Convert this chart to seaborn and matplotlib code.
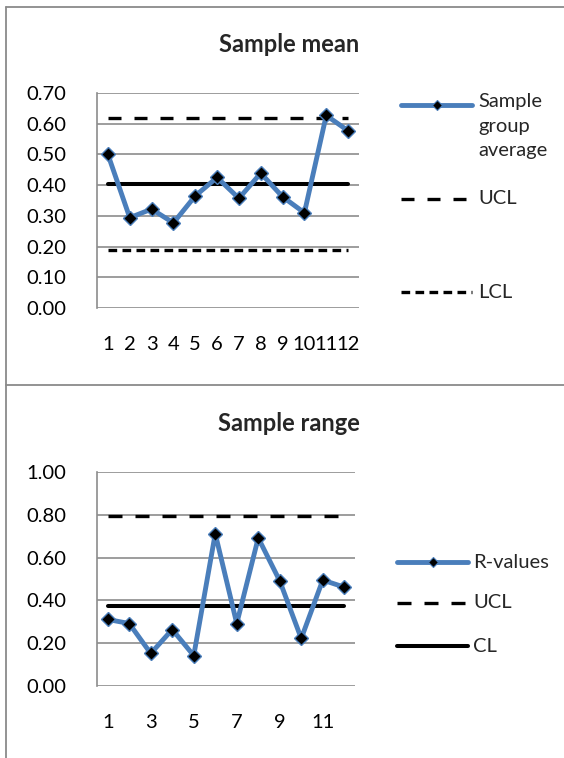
import matplotlib
matplotlib.use("Agg")
import matplotlib.pyplot as plt
from matplotlib.lines import Line2D
import numpy as np
import pandas as pd
import seaborn as sns

# ---- data -------------------------------------------------------------
samples = list(range(1, 13))
sample_means = [0.50, 0.294, 0.322, 0.277, 0.365, 0.425, 0.357, 0.439, 0.362, 0.310, 0.627, 0.577]
mean_ucl = 0.620
mean_cl = 0.404
mean_lcl = 0.188

r_values = [0.311, 0.292, 0.152, 0.264, 0.142, 0.712, 0.292, 0.692, 0.491, 0.222, 0.495, 0.462]
range_ucl = 0.793
range_cl = 0.376

mean_yticks = [0.0, 0.1, 0.2, 0.3, 0.4, 0.5, 0.6, 0.7]
range_yticks = [0.0, 0.2, 0.4, 0.6, 0.8, 1.0]
range_xticks = [1, 3, 5, 7, 9, 11]

# ---- style ------------------------------------------------------------
sns.set_theme(style="white")
plt.rcParams["font.family"] = ["Lato", "DejaVu Sans"]

W, H = 564, 758
DPI = 100
BLUE = "#4A7EBB"
GRID = "#8C8C8C"
FS = 14.5
fig = plt.figure(figsize=(W / DPI, H / DPI), dpi=DPI)
fig.patch.set_facecolor("white")


def fx(x):
    return x / W


def fy(y):
    return 1 - y / H


def add_axes(left, top, right, bottom):
    return fig.add_axes([fx(left), fy(bottom), fx(right - left), (bottom - top) / H])


def series_frame(values, ucl, cl, lcl=None):
    n = len(values)
    d = {"sample": samples, "value": values,
         "ucl": [ucl] * n, "cl": [cl] * n}
    if lcl is not None:
        d["lcl"] = [lcl] * n
    return pd.DataFrame(d)


def style_axes(ax, ymax, yticks, xticks):
    ax.set_xlim(0.5, 12.5)
    ax.set_ylim(0, ymax)
    ax.set_yticks(yticks)
    ax.set_yticklabels([f"{t:.2f}" for t in yticks], fontsize=FS)
    ax.set_xticks(xticks)
    ax.set_xticklabels([str(t) for t in xticks], fontsize=FS)
    ax.tick_params(axis="both", length=0, colors="black")
    ax.tick_params(axis="y", pad=22)
    ax.tick_params(axis="x", pad=20)
    ax.yaxis.grid(True, color=GRID, lw=1.2)
    ax.xaxis.grid(False)
    for s in ["top", "right", "bottom"]:
        ax.spines[s].set_visible(False)
    ax.spines["left"].set_color(GRID)
    ax.spines["left"].set_linewidth(1.2)
    ax.set_xlabel("")
    ax.set_ylabel("")
    ax.set_axisbelow(True)
    ax.set_facecolor("white")


def draw_series(ax, df, col):
    sns.lineplot(data=df, x="sample", y=col, ax=ax, color=BLUE, lw=3.5,
                 marker="D", markersize=7, markerfacecolor="black",
                 markeredgecolor=BLUE, markeredgewidth=1.0, zorder=5, legend=False)


# ---- top: sample mean ---------------------------------------------------
df_mean = series_frame(sample_means, mean_ucl, mean_cl, mean_lcl)
ax1 = add_axes(97, 93, 359, 308)
sns.lineplot(data=df_mean, x="sample", y="ucl", ax=ax1, color="black", lw=2.4,
             legend=False, zorder=3).lines[-1].set_dashes([3.9, 3.9])
sns.lineplot(data=df_mean, x="sample", y="cl", ax=ax1, color="black", lw=2.9,
             legend=False, zorder=3)
sns.lineplot(data=df_mean, x="sample", y="lcl", ax=ax1, color="black", lw=2.4,
             legend=False, zorder=3).lines[-1].set_dashes([2.6, 1.6])
ax1.lines[1].set_solid_capstyle("round")
draw_series(ax1, df_mean, "value")
style_axes(ax1, 0.70, mean_yticks, samples)

fig.text(fx(289), fy(45), "Sample mean", ha="center", va="center",
         fontsize=17, fontweight="bold")

# ---- bottom: sample range ----------------------------------------------
df_range = series_frame(r_values, range_ucl, range_cl)
ax2 = add_axes(97, 472, 355, 686)
sns.lineplot(data=df_range, x="sample", y="ucl", ax=ax2, color="black", lw=2.4,
             legend=False, zorder=3).lines[-1].set_dashes([4.2, 3.9])
sns.lineplot(data=df_range, x="sample", y="cl", ax=ax2, color="black", lw=2.9,
             legend=False, zorder=3)
ax2.lines[1].set_solid_capstyle("round")
draw_series(ax2, df_range, "value")
style_axes(ax2, 1.0, range_yticks, range_xticks)

fig.text(fx(289), fy(423), "Sample range", ha="center", va="center",
         fontsize=17, fontweight="bold")


# ---- legends ------------------------------------------------------------
def legend_entry(x0, x1, y, label, kind, text_x, text_y=None, **kw):
    if kind == "series":
        fig.add_artist(Line2D([fx(x0), fx(x1)], [fy(y), fy(y)], color=BLUE, lw=3.5,
                              solid_capstyle="round", transform=fig.transFigure))
        fig.add_artist(Line2D([fx((x0 + x1) / 2)], [fy(y)], marker="D", markersize=5,
                              markerfacecolor="black", markeredgecolor=BLUE,
                              markeredgewidth=0.8, transform=fig.transFigure))
    else:
        ln = Line2D([fx(x0), fx(x1)], [fy(y), fy(y)], color="black", lw=kw.get("lw", 2.4),
                    transform=fig.transFigure)
        if kw.get("dashes"):
            ln.set_dashes(kw["dashes"])
        fig.add_artist(ln)
    fig.text(fx(text_x), fy(text_y if text_y is not None else y), label,
             ha="left", va="top" if text_y is not None else "center",
             fontsize=FS, linespacing=1.55)


legend_entry(401, 472, 105, "Sample\ngroup\naverage", "series", 478, text_y=93)
legend_entry(401, 472, 199, "UCL", "dash", 478, dashes=[3.9, 3.9])
legend_entry(401, 472, 292, "LCL", "dash", 478, dashes=[2.6, 1.6])

legend_entry(397, 468, 562, "R-values", "series", 473)
legend_entry(397, 468, 603, "UCL", "dash", 473, dashes=[4.2, 3.9])
legend_entry(397, 468, 646, "CL", "solid", 473, lw=2.9)

# ---- chart area borders -----------------------------------------------
for xs, ys in [([6, W], [7, 7]), ([6, 6], [7, H]), ([6, W], [385, 385])]:
    fig.add_artist(Line2D([fx(v) for v in xs], [fy(v) for v in ys], color="#8A8A8A",
                          lw=1.3, transform=fig.transFigure))

fig.savefig("out.png", dpi=DPI, facecolor="white")
